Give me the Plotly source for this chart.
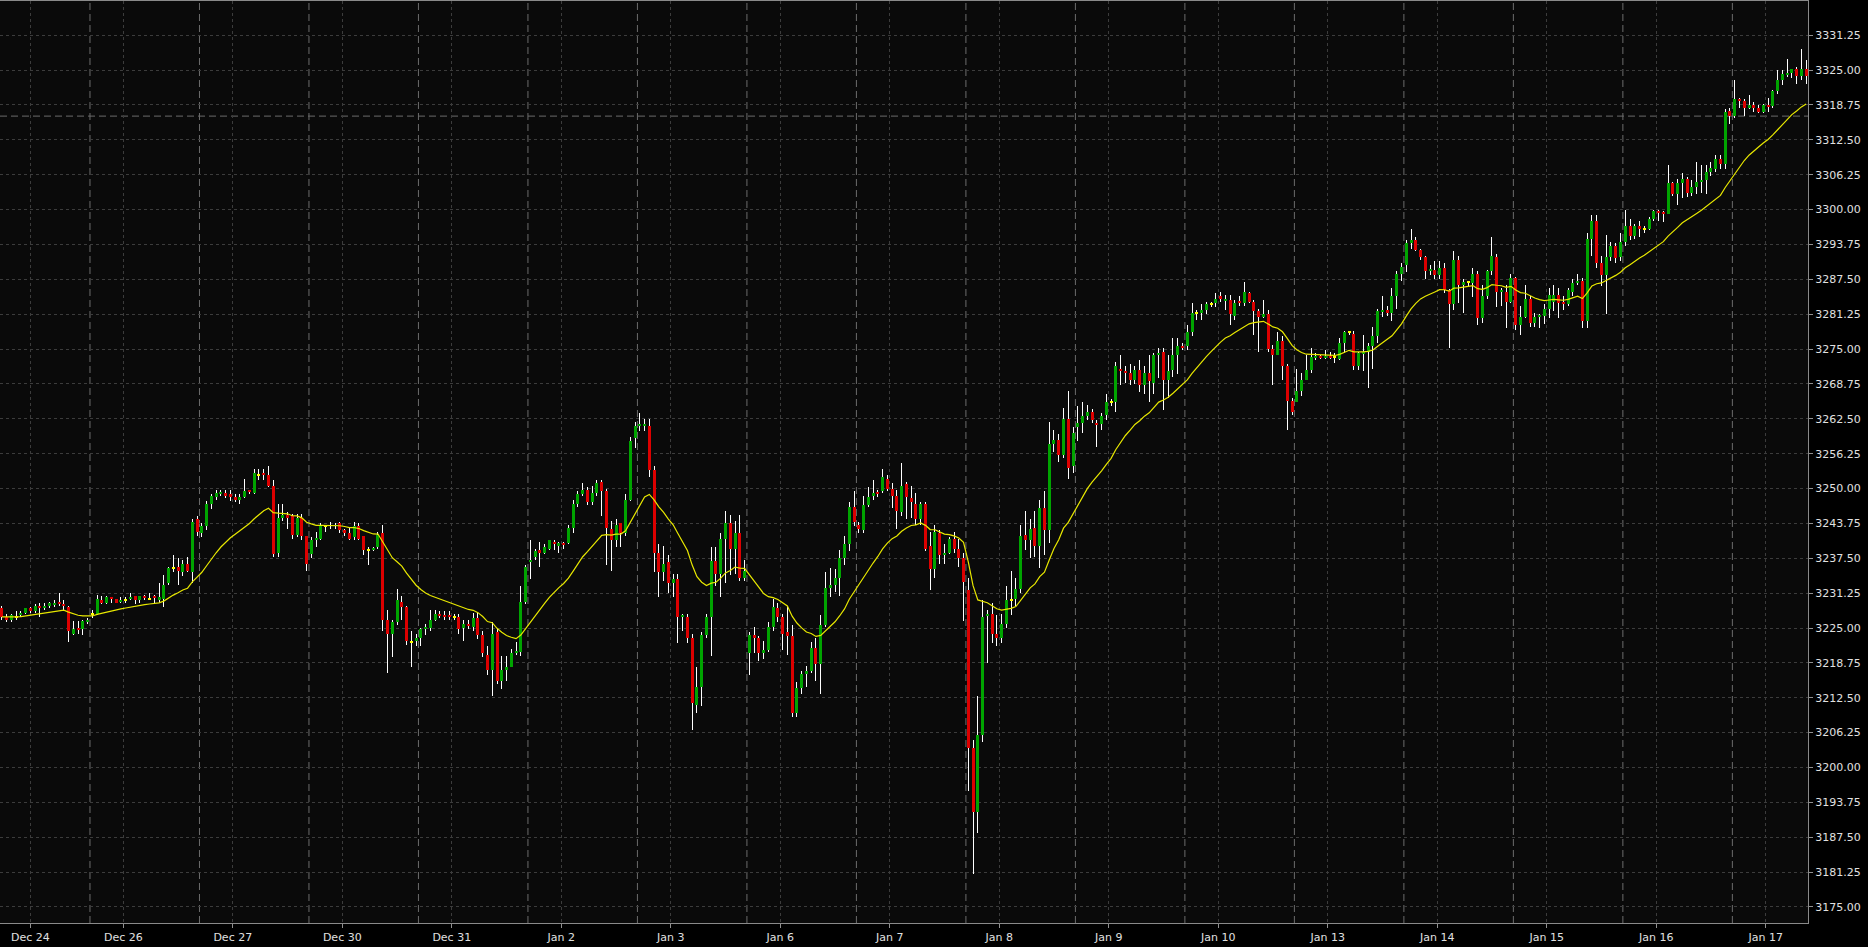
import numpy as np
import pandas as pd
import plotly.graph_objects as go

# ---------------- data (hourly bars) ----------------
date_labels = ["Dec 24", "Dec 26", "Dec 27", "Dec 30", "Dec 31", "Jan 2", "Jan 3",
               "Jan 6", "Jan 7", "Jan 8", "Jan 9", "Jan 10", "Jan 13", "Jan 14",
               "Jan 15", "Jan 16", "Jan 17"]

opens = [
    3228.5, 3227, 3226.5, 3227, 3227.25, 3227.75, 3228.5, 3228, 3229, 3228.5,
    3229, 3229.25, 3229.75, 3229.25, 3228.75, 3224, 3225, 3224.75, 3226, 3227.5,
    3227.5, 3230, 3229.5, 3230.5, 3230.25, 3229.75, 3230, 3230.25, 3230.75, 3230,
    3230.75, 3230.25, 3230.75, 3230, 3230.25, 3233, 3235.75, 3236, 3235, 3236.5,
    3235, 3244.5, 3242, 3243.25, 3247.25, 3248.5, 3249, 3249.25, 3249, 3248.5,
    3248, 3248.5, 3249.75, 3249.25, 3252.5, 3252.75, 3252.5, 3250.5, 3238.5, 3244.75,
    3245.25, 3245, 3241.75, 3244.75, 3241.5, 3238.25, 3240.75, 3241, 3243.25, 3243.25,
    3243.25, 3243.75, 3242.5, 3242, 3241.25, 3243.25, 3241.5, 3239, 3239, 3239.5,
    3242, 3226.5, 3224, 3226, 3229.75, 3228.75, 3222.5, 3222.75, 3223.25, 3224.75,
    3225, 3226.5, 3227.5, 3227.25, 3227.25, 3227, 3227, 3225, 3225.75, 3225.25,
    3226.75, 3223.75, 3220.25, 3217.5, 3224.25, 3215.5, 3217.5, 3218, 3220.5, 3220.75,
    3229.75, 3236.75, 3237.75, 3239, 3238.5, 3239.25, 3240.5, 3239.75, 3240.25, 3240.25,
    3243, 3247.25, 3249, 3249.75, 3247.5, 3249.25, 3251.25, 3249.5, 3242.75, 3240.75,
    3243.75, 3242, 3248, 3259, 3261.25, 3261.25, 3261.25, 3253.25, 3238.5, 3235,
    3236.75, 3233, 3233.75, 3227, 3227, 3223.25, 3211.25, 3214.5, 3223.75, 3227,
    3237, 3234.75, 3241, 3243.75, 3239.25, 3242, 3234,
    3220.5, 3223.75, 3223.25, 3220.5, 3221, 3225.25, 3228.5, 3227, 3224.25, 3223.5,
    3209.75, 3214.25, 3216.75, 3217.25, 3221.5, 3218.5, 3225.5, 3232.25, 3232.75, 3234,
    3237.5, 3240, 3246.75, 3243.5, 3242.5, 3247, 3248.75, 3249.25, 3249.5, 3251.75,
    3250, 3248.75, 3245.75, 3250.75, 3248.25, 3247.25, 3244.5, 3247.25, 3239.75, 3235.5,
    3242, 3238, 3238.5, 3241, 3239.25, 3237.5, 3231.75, 3203.5, 3192, 3205.75,
    3227.25, 3227.5, 3224, 3223.25, 3225.75, 3230, 3230.25, 3232, 3241.75, 3240.75,
    3243, 3239.75, 3246.5, 3242.5, 3258, 3258.75, 3256, 3262.5, 3254, 3261,
    3261.75, 3263, 3263.75, 3261.75, 3261.5, 3263.25, 3265.5, 3265.5, 3271.5, 3271,
    3270.75, 3269.5, 3271.25, 3268.5, 3270.75, 3269, 3274, 3274.5, 3269.5, 3271.25,
    3274, 3275.5, 3275.5, 3278, 3281.5, 3281.5, 3282, 3283, 3283.25, 3284.5,
    3283.75, 3283.75, 3281, 3283.5, 3283.25, 3285, 3283.5, 3281.75, 3280.75, 3281.25,
    3275, 3274, 3276.5, 3272, 3265.75, 3265.5, 3267.5, 3269.5, 3271.25, 3273.5,
    3273.75, 3273.5, 3273.75, 3273.5, 3273.25, 3276, 3278, 3277.75, 3272, 3274.25,
    3274.5, 3275.5, 3277.25, 3281.75, 3282, 3281.5, 3284.5, 3288.5, 3290, 3294,
    3294.5, 3292.75, 3291.5, 3289, 3289.25, 3288.25, 3289.5, 3285.5, 3283, 3291,
    3286.5, 3287, 3286.75, 3288.5, 3280.5, 3284.5, 3289, 3291.5, 3285.25, 3285.25,
    3283.5, 3287.75, 3279.25, 3280.75, 3284, 3279.75, 3280.75, 3281, 3282.25, 3283.5,
    3284.75, 3283.5, 3283, 3285.25, 3286.75, 3287.25, 3280, 3294.75, 3298, 3290.5,
    3288.25, 3291.5, 3293.5, 3291.5, 3294.25, 3297, 3295.25, 3297, 3296.5, 3296.5,
    3298.25, 3299.75, 3299.5, 3299.25, 3304.75, 3302.75, 3304.75, 3305.5, 3303, 3304,
    3305, 3305.25, 3306.75, 3307.25, 3309, 3308.25, 3317.75, 3316.75, 3319.75, 3319.5,
    3318.25, 3318.75, 3318.25, 3317.5, 3318.75, 3318.5, 3321.25, 3323.25, 3324.25, 3324.5,
    3325.25, 3324, 3325.25,
]

highs = [
    3229, 3227.5, 3227.5, 3228, 3228, 3228.5, 3228.75, 3229.25, 3229.5, 3229.5,
    3229.75, 3230, 3231.25, 3230, 3229, 3226.25, 3226.25, 3226.5, 3226.75, 3228.25,
    3231, 3230.75, 3230.75, 3230.5, 3230.25, 3230.5, 3230.5, 3231.25, 3230.75, 3230.75,
    3231, 3231.25, 3231, 3233, 3234.5, 3236, 3238, 3237.5, 3237.25, 3237.75,
    3244.5, 3245, 3243.75, 3247.75, 3249, 3249.75, 3249.75, 3249.75, 3249.75, 3249,
    3249, 3251.75, 3249.75, 3253.5, 3253.5, 3253.5, 3254, 3251.5, 3247.25, 3247.25,
    3245.75, 3245.5, 3245.5, 3245.5, 3241.5, 3241.25, 3242.25, 3243.75, 3243.5, 3244,
    3243.75, 3244, 3242.75, 3243, 3244, 3243.75, 3241.5, 3239.5, 3239.5, 3242.25,
    3243.5, 3228.25, 3226.5, 3232, 3230.75, 3229, 3224.5, 3224, 3225, 3225.75,
    3228.25, 3228.25, 3228, 3228, 3228, 3227.5, 3227.5, 3226.5, 3226.5, 3227.75,
    3227.75, 3224.5, 3221.75, 3226, 3224.75, 3220, 3220, 3221.25, 3222.5, 3232.5,
    3236.25, 3240.75, 3239.25, 3240.5, 3240, 3240.75, 3240.75, 3240.5, 3240.5, 3243.5,
    3248, 3249.5, 3251, 3250.25, 3250.5, 3251.5, 3251.5, 3250, 3244.25, 3244.5,
    3243.75, 3249, 3259.25, 3262, 3263.5, 3262.5, 3262.5, 3254, 3240, 3239.75,
    3238, 3234.75, 3234.75, 3227.5, 3227.5, 3224, 3218, 3224.25, 3227.5, 3239.5,
    3239.5, 3242, 3246, 3245.25, 3244.25, 3245.25, 3237.25,
    3224.25, 3225.25, 3223.5, 3222.75, 3226, 3230.25, 3229.5, 3227.5, 3229, 3225.5,
    3215.25, 3217.25, 3218.25, 3222.5, 3223.25, 3227.25, 3235, 3235.75, 3235.5, 3239,
    3241.5, 3247.5, 3249.5, 3244, 3248.75, 3250.25, 3251.5, 3249.75, 3253.5, 3252.5,
    3251, 3249.75, 3254.5, 3251.25, 3250.5, 3249.25, 3247.5, 3247.5, 3242.25, 3243.5,
    3242.5, 3240, 3241.25, 3242.25, 3241, 3238.5, 3234, 3205, 3212.75, 3230,
    3228.25, 3229.5, 3227.25, 3227.5, 3232.5, 3235.25, 3234, 3243.5, 3246, 3244.5,
    3246, 3248, 3249.5, 3262, 3260.5, 3259.75, 3264.5, 3267.5, 3261, 3264.75,
    3265.5, 3265, 3264.25, 3262.25, 3263.5, 3267, 3266, 3272.75, 3274, 3272,
    3272.25, 3272, 3273, 3272, 3274, 3274.25, 3275.25, 3275.25, 3274, 3277,
    3277, 3276, 3279.25, 3283.25, 3282, 3283, 3283.5, 3283.5, 3285, 3285.25,
    3284.75, 3284.75, 3283.75, 3284.5, 3287, 3285.25, 3283.75, 3282.25, 3283.75, 3282,
    3275.75, 3278, 3277.25, 3272.25, 3266.25, 3271.5, 3270.75, 3274, 3275.25, 3274.25,
    3274, 3274.75, 3274.5, 3274.25, 3277, 3278.25, 3278.25, 3278.25, 3274.5, 3277.5,
    3276, 3279, 3282.25, 3284.5, 3282.75, 3286, 3289, 3290.5, 3294.5, 3296.5,
    3295, 3293, 3291.75, 3290, 3290.75, 3290.75, 3290.5, 3285.75, 3292.5, 3291.75,
    3287.5, 3287.25, 3289.5, 3289, 3286.5, 3289.25, 3295, 3292, 3286, 3286.5,
    3288.5, 3288, 3282.75, 3286.5, 3284.5, 3281.5, 3281.25, 3283, 3286, 3286.5,
    3286, 3284.5, 3286, 3287.5, 3288.5, 3287.75, 3295.75, 3299, 3299, 3291.75,
    3295.5, 3294.25, 3294, 3295.75, 3300, 3298.25, 3297.5, 3298, 3297, 3298.75,
    3300, 3300, 3299.75, 3308, 3305, 3305.5, 3306.5, 3305.75, 3305.25, 3308.5,
    3308, 3308, 3308.5, 3309.75, 3309.75, 3318, 3318.25, 3323.25, 3320, 3319.75,
    3320.5, 3319.25, 3318.75, 3319, 3320, 3321.5, 3325, 3325, 3327, 3325.25,
    3325.5, 3328.75, 3326.75,
]

lows = [
    3226.5, 3226, 3226, 3226.5, 3227, 3227.5, 3227.75, 3227.75, 3227, 3228.25,
    3228.5, 3228.75, 3229, 3228, 3222.5, 3223.75, 3224, 3223.75, 3225.75, 3226.75,
    3227.25, 3229.25, 3229.25, 3229.5, 3229.5, 3229.5, 3229.5, 3230, 3229.25, 3229.5,
    3230, 3230, 3229.5, 3229.5, 3228.75, 3232.75, 3235, 3232.75, 3234.25, 3235,
    3233, 3241.5, 3241.25, 3242.5, 3246.25, 3248, 3248.75, 3248.25, 3247.75, 3247.5,
    3247.25, 3248.25, 3249, 3249, 3251.5, 3251.5, 3250.25, 3237.75, 3237.75, 3244.25,
    3242.75, 3241, 3241.25, 3240.75, 3235.25, 3237.5, 3239.5, 3240.75, 3242.25, 3242.75,
    3242.75, 3242, 3241.5, 3240.75, 3240.75, 3240.75, 3238, 3236.25, 3238.75, 3239.25,
    3224.5, 3217, 3219.75, 3225.5, 3226.5, 3222, 3218, 3221.75, 3221.75, 3223.75,
    3224.5, 3226.25, 3226.75, 3226.5, 3226.5, 3226.5, 3224, 3222.75, 3224.75, 3224.5,
    3223, 3219.75, 3216.5, 3212.75, 3215, 3214, 3215.5, 3218, 3220.25, 3220,
    3229.25, 3233.75, 3237.25, 3236, 3238.25, 3239, 3239, 3238.5, 3239.25, 3240,
    3242, 3246.75, 3248.75, 3247, 3247, 3248.75, 3245, 3236.25, 3235.25, 3239.5,
    3239.5, 3241.5, 3247.75, 3257.25, 3260.25, 3260.25, 3252, 3235, 3230.5, 3233.5,
    3231.25, 3230.5, 3222.25, 3224.5, 3222.25, 3206.75, 3209.75, 3211, 3223.25, 3220,
    3232.5, 3230.5, 3233, 3234.5, 3234.75, 3233.5, 3233.5,
    3216.5, 3220.5, 3219, 3219.5, 3220.75, 3224.5, 3226, 3221, 3220.25, 3209,
    3209, 3213.25, 3214.5, 3217, 3215.5, 3213.25, 3225.25, 3230.5, 3231.5, 3230.75,
    3236.25, 3238.75, 3243.25, 3242, 3242, 3246.75, 3248, 3248.5, 3249.25, 3249.5,
    3246.5, 3242.75, 3245, 3244.5, 3244.75, 3243.5, 3243.5, 3238.75, 3231.75, 3234,
    3236.5, 3236.5, 3238.25, 3238.5, 3236, 3226.25, 3195.75, 3181, 3188.25, 3204.5,
    3218.75, 3222.25, 3221.75, 3222.25, 3225, 3227.25, 3229, 3231.25, 3239, 3237.5,
    3237.75, 3235.75, 3238, 3240.25, 3256.5, 3254.75, 3255.5, 3251.75, 3252.75, 3258.5,
    3260, 3262.25, 3261.75, 3257.5, 3260.5, 3262.25, 3264.75, 3263.75, 3268.5, 3269,
    3268.5, 3268.75, 3267.25, 3267, 3265.5, 3267, 3269.75, 3264, 3266.25, 3270,
    3270.5, 3274.75, 3274.75, 3277.25, 3280.25, 3280.25, 3281.25, 3282.5, 3282.5, 3283.5,
    3282, 3279.25, 3280.25, 3282.75, 3282.75, 3283.25, 3277.5, 3274.5, 3280.5, 3274.5,
    3268.5, 3274, 3269.5, 3260.5, 3263.25, 3265.5, 3266.5, 3269.5, 3270.75, 3273,
    3273.25, 3273.25, 3273.25, 3272.5, 3273, 3274.25, 3277.5, 3271.25, 3271.25, 3271,
    3268, 3271.5, 3276, 3280.75, 3281, 3280, 3282.25, 3287.25, 3288.75, 3293,
    3292.5, 3291, 3287.5, 3288.25, 3287.5, 3287.5, 3285, 3275.25, 3282, 3283.25,
    3281.5, 3286.25, 3284.25, 3279.25, 3279.75, 3284, 3288.25, 3282.5, 3282.75, 3278.75,
    3283.25, 3278.5, 3277.5, 3280.5, 3279, 3279, 3278.75, 3279.5, 3280.5, 3281.75,
    3280.5, 3282, 3282.75, 3284.5, 3286.5, 3278.75, 3278.75, 3291.75, 3289.5, 3286.25,
    3281.25, 3290.75, 3290.5, 3290.75, 3293.5, 3294.5, 3294.75, 3295, 3295.75, 3296.25,
    3298, 3298, 3297.75, 3299.25, 3302.5, 3300.75, 3302, 3302.25, 3302.5, 3302.75,
    3303, 3302.75, 3306, 3306.75, 3307.25, 3307.25, 3315.25, 3316.5, 3318.25, 3316.75,
    3318, 3317.5, 3317.25, 3317.25, 3317.5, 3318.25, 3320.75, 3322.25, 3323.75, 3323.5,
    3322.5, 3323.25, 3322.5,
]

closes = [
    3227, 3226.5, 3227.25, 3227, 3227.75, 3228.5, 3228, 3229, 3228.5, 3229,
    3229.5, 3229.5, 3229.25, 3229, 3224.5, 3224.75, 3224.75, 3226.25, 3226.5, 3227.5,
    3230.25, 3229.5, 3230.5, 3230.25, 3229.5, 3230, 3230, 3230.5, 3230, 3230.75,
    3230.5, 3230.25, 3230.5, 3230.5, 3232.75, 3235.75, 3235.75, 3235.25, 3236.5, 3235.25,
    3244, 3242.25, 3243.25, 3247.25, 3248.75, 3249.25, 3249.25, 3248.75, 3248.5, 3248,
    3248.5, 3249.5, 3249.5, 3252.75, 3252.5, 3252.5, 3250.5, 3238.25, 3244.75, 3245.25,
    3244.75, 3241.75, 3244.75, 3241.5, 3236.5, 3240.75, 3241, 3243.5, 3243.25, 3243.5,
    3243.5, 3242.5, 3242, 3241, 3243.25, 3241, 3239, 3239, 3239.25, 3241.75,
    3226.5, 3224, 3226, 3230, 3228.75, 3222.75, 3222.5, 3223.25, 3224.75, 3225.25,
    3226.5, 3227.5, 3227.25, 3227, 3227, 3227, 3224.75, 3225.75, 3225.5, 3226.75,
    3223.75, 3220.5, 3217.5, 3224, 3215.5, 3217.5, 3218, 3220.5, 3220.75, 3229.75,
    3236, 3237.25, 3238.75, 3238.5, 3239.5, 3240.75, 3240, 3240.25, 3240, 3243,
    3247.25, 3249, 3249.75, 3247.5, 3249.25, 3251, 3249.5, 3243, 3240.75, 3243.5,
    3242, 3248, 3258.5, 3261.25, 3261.5, 3261.5, 3253.25, 3238.5, 3235, 3236.5,
    3233, 3233.75, 3227, 3227.25, 3223.25, 3211.5, 3214.5, 3223.75, 3227, 3237,
    3234.75, 3241, 3243.75, 3239.25, 3242, 3234, 3235.25,
    3223.75, 3223.25, 3220.5, 3221, 3225.25, 3228.75, 3227, 3224, 3223.5, 3209.75,
    3214.25, 3216.75, 3217.25, 3221.5, 3218.5, 3225.5, 3232.25, 3232.75, 3234, 3237.5,
    3240, 3246.75, 3244, 3242.75, 3247, 3248.5, 3249.25, 3249, 3252, 3250,
    3248.75, 3246, 3250.5, 3248.5, 3247.5, 3244.5, 3247.25, 3239.25, 3235.5, 3242.25,
    3238, 3238.5, 3241, 3239.25, 3237.5, 3233.25, 3203.5, 3192, 3205.75, 3227,
    3227.5, 3224, 3223.25, 3225.75, 3230, 3230, 3232, 3241.5, 3240.75, 3242.75,
    3239.75, 3246.5, 3242.5, 3258, 3258.75, 3256, 3262.5, 3253.75, 3260, 3261.75,
    3263, 3263.75, 3262.25, 3261.5, 3263, 3265.5, 3265.5, 3272, 3271, 3270.75,
    3269.5, 3271.25, 3268.5, 3270.75, 3269.25, 3274, 3274.25, 3269.5, 3271, 3274,
    3275.5, 3275.25, 3278, 3281.5, 3281.5, 3282, 3283, 3283, 3284, 3284,
    3284, 3281.25, 3283.25, 3283.25, 3285.25, 3283.5, 3281.75, 3280.75, 3281.25, 3275,
    3274, 3276.5, 3272, 3265.75, 3263.75, 3267.5, 3269.5, 3271.25, 3273.5, 3273.75,
    3273.5, 3273.75, 3273.5, 3273.5, 3276, 3278, 3278, 3272, 3274.25, 3274.5,
    3275.5, 3277.25, 3281.75, 3282, 3281.5, 3284.5, 3288.5, 3289.75, 3294, 3294.5,
    3292.75, 3291.5, 3289, 3289.25, 3288.25, 3289.5, 3285.5, 3283, 3291, 3286.5,
    3287, 3287, 3288.5, 3280.5, 3284.5, 3289, 3291.75, 3285.25, 3285.5, 3283.5,
    3287.75, 3279.25, 3280.75, 3284, 3279.75, 3280.75, 3281, 3282.25, 3284.75, 3284.75,
    3283.25, 3283, 3285.5, 3286.75, 3287.25, 3280, 3294.75, 3298, 3290.5, 3288.25,
    3291.5, 3293.5, 3291.25, 3294.25, 3297, 3295.25, 3297, 3296.5, 3296.5, 3298.25,
    3299.75, 3299.5, 3299.25, 3304.75, 3302.75, 3304.75, 3305.5, 3303, 3304, 3305,
    3305.25, 3306.75, 3307.5, 3309, 3308.25, 3317.5, 3316.75, 3319.75, 3319.5, 3318.25,
    3318.75, 3318.25, 3317.5, 3318.75, 3318.5, 3321.25, 3323.25, 3324.25, 3324.5, 3325.25,
    3324, 3325.25, 3324,
]

# session structure: 23 hourly bars per trading session; the Dec 26 session starts at bar 19
bars_per_session = 23
first_session_start = 19
ma_span = 20

# ---------------- derived ----------------
n = len(closes)
idx = np.arange(n)
o = np.array(opens, float)
h = np.array(highs, float)
l = np.array(lows, float)
c = np.array(closes, float)

n_sessions = len(date_labels) - 1
session_starts = [first_session_start + k * bars_per_session for k in range(n_sessions)]
session_bounds = [s - 0.5 for s in session_starts]
label_pos = [first_session_start - 13] + [s + 6.5 for s in session_starts]
prev_close = c[session_starts[-1] - 1]

ema = pd.Series(c).ewm(span=ma_span, adjust=False).mean().values

# wicks
wx, wy = [], []
for i in range(n):
    wx += [i, i, None]
    wy += [l[i], h[i], None]

# bodies, drawn as thick vertical segments grouped by colour
min_body = 0.35
groups = {"up": ([], []), "down": ([], []), "flat": ([], [])}
for i in range(n):
    lo, hi = min(o[i], c[i]), max(o[i], c[i])
    if hi - lo < min_body:
        mid = (lo + hi) / 2
        lo, hi = mid - min_body / 2, mid + min_body / 2
    key = "up" if c[i] > o[i] else ("down" if c[i] < o[i] else "flat")
    gx, gy = groups[key]
    gx += [i, i, None]
    gy += [lo, hi, None]
body_colors = {"up": "#00a400", "down": "#dd0000", "flat": "#ffff00"}

# ---------------- figure ----------------
fig = go.Figure()
fig.add_trace(go.Scatter(x=wx, y=wy, mode="lines", line=dict(color="#ffffff", width=1),
                         hoverinfo="skip", showlegend=False))
for key, (gx, gy) in groups.items():
    fig.add_trace(go.Scatter(x=gx, y=gy, mode="lines",
                             line=dict(color=body_colors[key], width=3),
                             hoverinfo="skip", showlegend=False))
fig.add_trace(go.Scatter(x=idx, y=ema, mode="lines", line=dict(color="#e8e800", width=1.2),
                         hoverinfo="skip", showlegend=False))

shapes = []
for b in session_bounds:
    shapes.append(dict(type="line", xref="x", yref="paper", x0=b, x1=b, y0=0, y1=1,
                       line=dict(color="#6c6c6c", width=1, dash="7px,4px"), layer="below"))
shapes.append(dict(type="line", xref="paper", yref="y", x0=0, x1=1, y0=prev_close, y1=prev_close,
                   line=dict(color="#6c6c6c", width=1, dash="7px,4px"), layer="below"))

tick_font = dict(family="DejaVu Sans", size=11, color="#e0e0e0")
fig.update_layout(
    width=1868, height=947,
    margin=dict(l=0, r=60, t=1, b=24, pad=0),
    paper_bgcolor="#000000", plot_bgcolor="#0a0a0a",
    showlegend=False,
    shapes=shapes,
    xaxis=dict(range=[-0.4, 379.39], tickmode="array", tickvals=label_pos, ticktext=date_labels,
               showgrid=True, gridcolor="#3c3c3c", griddash="3px,3px", gridwidth=1,
               ticks="outside", ticklen=4, tickcolor="#909090", tickfont=tick_font,
               showline=True, linecolor="#8a8a8a", linewidth=1, mirror=True, zeroline=False,
               fixedrange=True),
    yaxis=dict(side="right", range=[3172.13, 3337.38], tick0=3175, dtick=6.25, tickformat=".2f",
               showgrid=True, gridcolor="#3c3c3c", griddash="3px,3px", gridwidth=1,
               ticks="outside", ticklen=4, tickcolor="#909090", tickfont=tick_font,
               showline=True, linecolor="#8a8a8a", linewidth=1, mirror=True, zeroline=False,
               fixedrange=True),
)

# crisp (non-antialiased) rendering for the wick and body segments, like the original terminal chart
post = (
    "document.body.style.margin='0';"
    "document.body.style.background='#000';"
    "document.body.style.overflow='hidden';"
    "var tr=document.querySelectorAll('.scatterlayer .trace');"
    "for(var k=0;k<4&&k<tr.length;k++){tr[k].querySelectorAll('path').forEach(function(p){p.style.shapeRendering='crispEdges';});}"
)
fig.write_html("out.html", config={"displayModeBar": False}, post_script=post)
